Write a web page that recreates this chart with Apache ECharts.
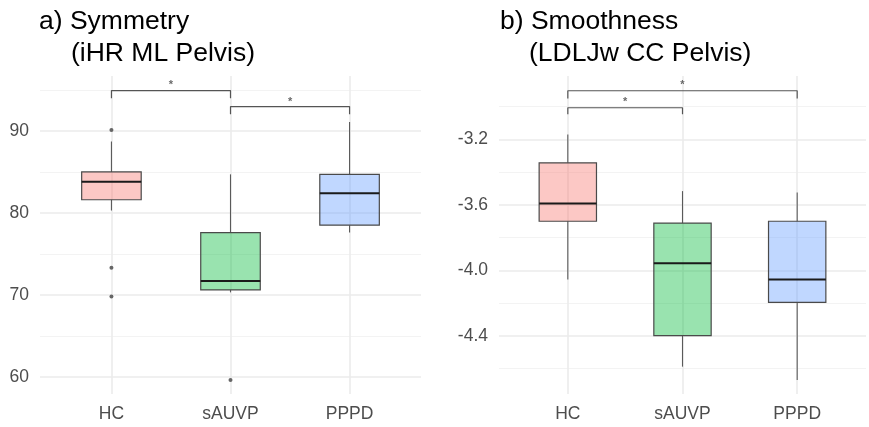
<!DOCTYPE html>
<html><head><meta charset="utf-8">
<script src="https://cdn.jsdelivr.net/npm/echarts@6/dist/echarts.min.js"></script>
<style>html,body{margin:0;padding:0;background:#fff}#c{width:869px;height:427px}</style>
</head><body><div id="c"></div>
<script>
const categories = ['HC', 'sAUVP', 'PPPD'];

// Panel a) Symmetry (iHR ML Pelvis) — [min, Q1, median, Q3, max]
const symBoxes = [
  [80.3, 81.6, 83.8, 85.0, 88.7],
  [70.3, 70.6, 71.7, 77.6, 84.7],
  [77.6, 78.5, 82.4, 84.7, 91.1]
];
const symOutliers = [['HC', 90.1], ['HC', 73.3], ['HC', 69.8], ['sAUVP', 59.6]];
const symTicks = [60, 70, 80, 90];
const symMinorTicks = [65, 75, 85, 95];
const symRange = [57.9, 96.7];
// [from, to, bar y, tip y, star y]
const symBrackets = [
  ['HC', 'sAUVP', 94.92, 93.99, 95.95],
  ['sAUVP', 'PPPD', 92.97, 92.04, 93.9]
];

// Panel b) Smoothness (LDLJw CC Pelvis)
const smoBoxes = [
  [-4.055, -3.70, -3.591, -3.343, -3.17],
  [-4.588, -4.399, -3.957, -3.711, -3.516],
  [-4.669, -4.195, -4.055, -3.70, -3.524]
];
const smoOutliers = [];
const smoTicks = [-4.4, -4.0, -3.6, -3.2];
const smoMinorTicks = [-4.6, -4.2, -3.8, -3.4, -3.0];
const smoRange = [-4.755, -2.813];
const smoBrackets = [
  ['HC', 'PPPD', -2.903, -2.950, -2.852],
  ['HC', 'sAUVP', -3.007, -3.047, -2.954]
];

const fills = ['rgba(248,118,109,0.4)', 'rgba(0,186,56,0.4)', 'rgba(97,156,255,0.4)'];
const FONT = 'Liberation Sans, Arial, sans-serif';
const catX = c => categories.indexOf(c) + 1;

const panels = [
  {boxes: symBoxes, outliers: symOutliers, ticks: symTicks, minor: symMinorTicks, range: symRange, brackets: symBrackets,
   grid: {left: 40, top: 76, width: 381, height: 318}, split: 5, fmt: v => String(Math.round(v))},
  {boxes: smoBoxes, outliers: smoOutliers, ticks: smoTicks, minor: smoMinorTicks, range: smoRange, brackets: smoBrackets,
   grid: {left: 499, top: 76, width: 370, height: 318}, split: 10, fmt: v => v.toFixed(1)}
];

const grids = [], xAxes = [], yAxes = [], series = [];
panels.forEach((p, i) => {
  grids.push(Object.assign({containLabel: false}, p.grid));
  xAxes.push({
    gridIndex: i, type: 'value', min: 0.4, max: 3.6,
    axisLine: {show: false}, axisTick: {show: false}, splitLine: {show: false},
    axisLabel: {
      color: '#4D4D4D', fontSize: 17.5, fontFamily: FONT, margin: 11,
      formatter: v => { const k = Math.round(v); return (Math.abs(v - k) < 1e-6 && k >= 1 && k <= categories.length) ? categories[k - 1] : ''; }
    }
  });
  yAxes.push({
    gridIndex: i, type: 'value', min: p.range[0], max: p.range[1], splitNumber: p.split,
    axisLine: {show: false}, axisTick: {show: false}, splitLine: {show: false},
    axisLabel: {
      color: '#4D4D4D', fontSize: 17.5, fontFamily: FONT, margin: 11,
      formatter: v => p.ticks.some(t => Math.abs(t - v) < 1e-6) ? p.fmt(v) : ''
    }
  });
  const major = {color: '#EBEBEB', width: 1.6, type: 'solid'};
  const minorS = {color: '#F3F3F3', width: 1, type: 'solid'};
  series.push({
    type: 'line', xAxisIndex: i, yAxisIndex: i, data: [], z: 0, silent: true,
    markLine: {
      z: 0, silent: true, symbol: ['none', 'none'], animation: false, label: {show: false},
      emphasis: {disabled: true},
      data: [
        ...p.minor.map(v => ({yAxis: v, lineStyle: minorS})),
        ...p.ticks.map(v => ({yAxis: v, lineStyle: major})),
        ...categories.map(c => ({xAxis: catX(c), lineStyle: major}))
      ]
    }
  });
  series.push({
    type: 'custom', xAxisIndex: i, yAxisIndex: i, z: 2, silent: true,
    encode: {x: 0, y: [1, 2, 3, 4, 5]},
    data: categories.map((c, k) => [k + 1].concat(p.boxes[k])),
    renderItem: (params, api) => {
      const x = api.value(0);
      const pMin = api.coord([x, api.value(1)]);
      const pQ1 = api.coord([x, api.value(2)]);
      const pMed = api.coord([x, api.value(3)]);
      const pQ3 = api.coord([x, api.value(4)]);
      const pMax = api.coord([x, api.value(5)]);
      const w = api.size([0.5, 0])[0];
      const cx = pMed[0], left = cx - w / 2;
      return {type: 'group', children: [
        {type: 'line', shape: {x1: cx, y1: pMax[1], x2: cx, y2: pQ3[1]}, style: {stroke: '#5a5a5a', lineWidth: 1.1}},
        {type: 'line', shape: {x1: cx, y1: pQ1[1], x2: cx, y2: pMin[1]}, style: {stroke: '#5a5a5a', lineWidth: 1.1}},
        {type: 'rect', shape: {x: left, y: pQ3[1], width: w, height: pQ1[1] - pQ3[1]},
         style: {fill: fills[params.dataIndex], stroke: '#4a4a4a', lineWidth: 1.2}},
        {type: 'line', shape: {x1: left, y1: pMed[1], x2: left + w, y2: pMed[1]}, style: {stroke: '#1a1a1a', lineWidth: 2}}
      ]};
    }
  });
  series.push({
    type: 'scatter', xAxisIndex: i, yAxisIndex: i, z: 3, silent: true,
    symbol: 'circle', symbolSize: 4, itemStyle: {color: '#666', opacity: 1},
    data: p.outliers.map(([c, v]) => [catX(c), v])
  });
  p.brackets.forEach(([a, b, y, tip]) => {
    series.push({
      type: 'line', xAxisIndex: i, yAxisIndex: i, z: 3, silent: true, symbol: 'none',
      lineStyle: {color: '#555', width: 1.2},
      data: [[catX(a), tip], [catX(a), y], [catX(b), y], [catX(b), tip]]
    });
  });
  series.push({
    type: 'scatter', xAxisIndex: i, yAxisIndex: i, z: 3, silent: true,
    symbol: 'circle', symbolSize: 1, itemStyle: {color: 'rgba(0,0,0,0)'},
    label: {show: true, position: 'inside', formatter: '*', fontSize: 11, fontWeight: 'bold', color: '#444', fontFamily: FONT, offset: [0, 3]},
    data: p.brackets.map(([a, b, y, tip, s]) => [(catX(a) + catX(b)) / 2, s])
  });
});

const titleStyle = {fontSize: 26.5, fontWeight: 'normal', color: '#000', fontFamily: FONT};
const chart = echarts.init(document.getElementById('c'), null, {renderer: 'canvas'});
chart.setOption({
  animation: false,
  backgroundColor: '#fff',
  title: [
    {text: 'a) Symmetry', left: 39, top: 8, padding: 0, textStyle: titleStyle},
    {text: '(iHR ML Pelvis)', left: 71, top: 40, padding: 0, textStyle: titleStyle},
    {text: 'b) Smoothness', left: 500, top: 8, padding: 0, textStyle: titleStyle},
    {text: '(LDLJw CC Pelvis)', left: 529, top: 40, padding: 0, textStyle: titleStyle}
  ],
  grid: grids, xAxis: xAxes, yAxis: yAxes, series: series
});
</script></body></html>
